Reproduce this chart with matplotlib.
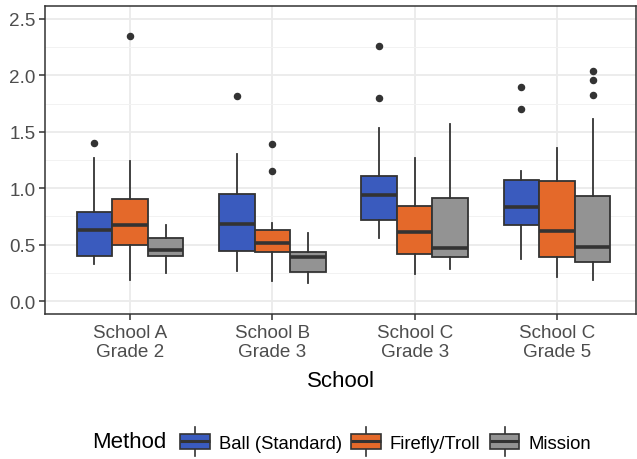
import matplotlib
matplotlib.use("Agg")
import matplotlib.pyplot as plt
from matplotlib.patches import Rectangle, Patch
from matplotlib.lines import Line2D
from matplotlib.legend_handler import HandlerBase
from matplotlib.ticker import MultipleLocator

plt.rcParams['font.family'] = ['Liberation Sans', 'DejaVu Sans']

schools = ["School A\nGrade 2", "School B\nGrade 3", "School C\nGrade 3", "School C\nGrade 5"]
methods = ["Ball (Standard)", "Firefly/Troll", "Mission"]
colors = ["#3A5BBE", "#E4692A", "#939393"]

# per method: values for each school
q1 = {
    "Ball (Standard)": [0.40, 0.446, 0.715, 0.671],
    "Firefly/Troll":   [0.50, 0.437, 0.414, 0.39],
    "Mission":         [0.40, 0.256, 0.393, 0.346],
}
med = {
    "Ball (Standard)": [0.63, 0.685, 0.94, 0.836],
    "Firefly/Troll":   [0.67, 0.517, 0.61, 0.618],
    "Mission":         [0.455, 0.387, 0.473, 0.481],
}
q3 = {
    "Ball (Standard)": [0.79, 0.95, 1.108, 1.07],
    "Firefly/Troll":   [0.90, 0.63, 0.845, 1.064],
    "Mission":         [0.556, 0.435, 0.916, 0.934],
}
whislo = {
    "Ball (Standard)": [0.33, 0.27, 0.56, 0.372],
    "Firefly/Troll":   [0.19, 0.177, 0.236, 0.213],
    "Mission":         [0.25, 0.16, 0.284, 0.186],
}
whishi = {
    "Ball (Standard)": [1.265, 1.30, 1.53, 1.15],
    "Firefly/Troll":   [1.24, 0.69, 1.27, 1.356],
    "Mission":         [0.67, 0.60, 1.57, 1.613],
}
fliers = {
    "Ball (Standard)": [[1.40], [1.82], [2.26, 1.80], [1.90, 1.70]],
    "Firefly/Troll":   [[2.35], [1.39, 1.15], [], []],
    "Mission":         [[], [], [], [2.04, 1.96, 1.83]],
}

W, H = 637, 460
fig = plt.figure(figsize=(W / 100, H / 100), dpi=100)
ax = fig.add_axes([45 / W, 1 - 315 / H, 591 / W, 308 / H])

edge = "#333333"
box_w = 0.25
for j, m in enumerate(methods):
    stats = []
    for i in range(len(schools)):
        stats.append(dict(med=med[m][i], q1=q1[m][i], q3=q3[m][i],
                          whislo=whislo[m][i], whishi=whishi[m][i],
                          fliers=fliers[m][i]))
    pos = [i + 1 + (j - 1) * box_w for i in range(len(schools))]
    ax.bxp(stats, positions=pos, widths=box_w, patch_artist=True,
           showcaps=False, manage_ticks=False,
           boxprops=dict(facecolor=colors[j], edgecolor=edge, linewidth=1.3),
           medianprops=dict(color=edge, linewidth=2.6, solid_capstyle='butt'),
           whiskerprops=dict(color=edge, linewidth=1.3),
           flierprops=dict(marker='o', markerfacecolor=edge, markeredgecolor=edge,
                           markersize=4.4, linestyle='none'),
           zorder=3)

ax.set_xlim(0.403, 4.555)
ax.set_ylim(-0.115, 2.615)
ax.set_xticks(range(1, len(schools) + 1))
ax.set_xticklabels(schools, linespacing=1.2)
ax.yaxis.set_minor_locator(MultipleLocator(0.25))
ax.set_yticks([0.0, 0.5, 1.0, 1.5, 2.0, 2.5])
ax.set_yticklabels(["0.0", "0.5", "1.0", "1.5", "2.0", "2.5"])

ax.grid(True, which='major', color='#EBEBEB', linewidth=1.3, zorder=0)
ax.grid(True, which='minor', axis='y', color='#F2F2F2', linewidth=0.7, zorder=0)
ax.set_axisbelow(True)
ax.tick_params(axis='both', which='major', length=4, width=1.1, color=edge,
               labelcolor='#4D4D4D', labelsize=13.6, pad=3)
ax.tick_params(axis='both', which='minor', length=0)
for s in ax.spines.values():
    s.set_color(edge)
    s.set_linewidth(1.1)

ax.set_xlabel("School", fontsize=16, color='black', labelpad=7)


class BoxHandler(HandlerBase):
    def create_artists(self, legend, orig_handle, xdescent, ydescent,
                       width, height, fontsize, trans):
        x0 = -xdescent
        y0 = -ydescent
        bh = height * 0.78
        by = y0 + (height - bh) / 2
        cx = x0 + width / 2
        whisk = Line2D([cx, cx], [y0 - height * 0.3, y0 + height * 1.3],
                       color=edge, lw=1.2, transform=trans)
        rect = Rectangle((x0, by), width, bh, facecolor=orig_handle.get_facecolor(),
                         edgecolor=edge, lw=1.2, transform=trans)
        medl = Line2D([x0, x0 + width], [y0 + height / 2] * 2, color=edge,
                      lw=2.2, transform=trans, solid_capstyle='butt')
        return [whisk, rect, medl]


handles = [Patch(facecolor=c) for c in colors]
fig.text(92 / W, 1 - 443 / H, "Method", fontsize=16, ha='left', va='center')
leg = fig.legend(handles, methods, loc='center left',
                 bbox_to_anchor=(180 / W, 1 - 443 / H), ncol=3, frameon=False,
                 fontsize=13.3, handler_map={Patch: BoxHandler()},
                 handlelength=1.6, handleheight=1.15, handletextpad=0.5,
                 columnspacing=0.5, borderpad=0, borderaxespad=0)

fig.savefig("out.png", dpi=100)
